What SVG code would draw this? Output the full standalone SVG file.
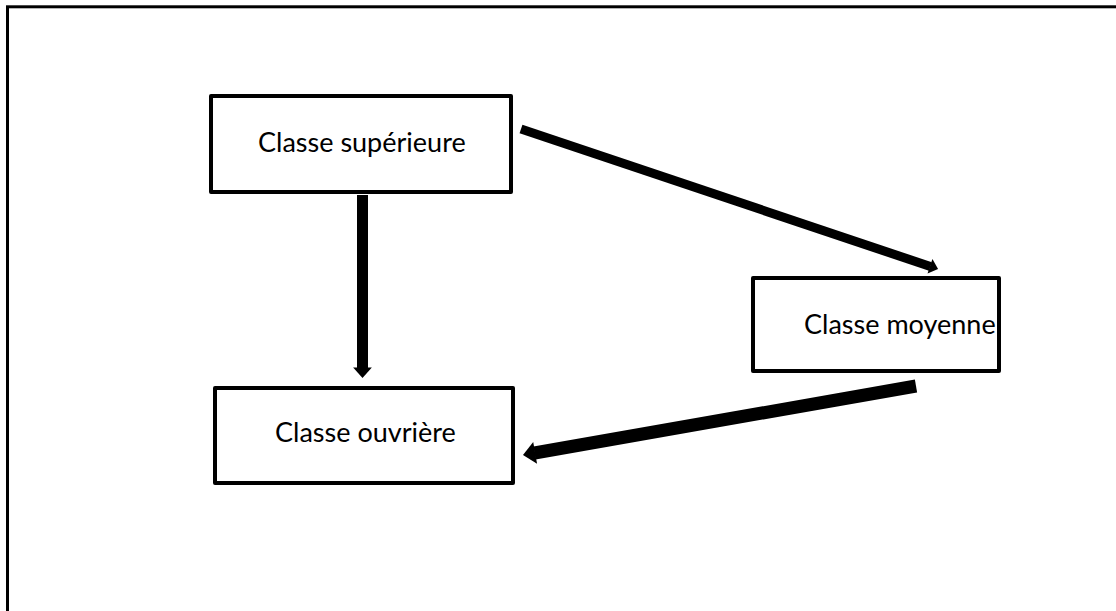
<svg xmlns="http://www.w3.org/2000/svg" width="1116" height="611" viewBox="0 0 1116 611">
  <style>
    .frame { fill: none; stroke: #000; stroke-width: 3; }
    .box { fill: #fff; stroke: #000; stroke-width: 4; stroke-linejoin: round; }
    .label { font-family: Lato, "Open Sans", "Liberation Sans", sans-serif; font-size: 27px; fill: #000; }
    .conn { stroke: #000; stroke-linecap: butt; fill: none; }
  </style>
  <defs>
    <marker id="head" viewBox="0 0 10 20" refX="0.5" refY="10" markerWidth="1" markerHeight="2" markerUnits="strokeWidth" orient="auto" overflow="visible">
      <path d="M0,1.5 L9.5,10 L0,18.5 Z" fill="#000"/>
    </marker>
  </defs>
  <rect width="1116" height="611" fill="#fff"/>
  <rect class="frame" x="7.5" y="6.8" width="1200" height="700"/>

  <g id="connectors">
    <line class="conn" x1="521" y1="129" x2="930.4" y2="266.5" stroke-width="9" marker-end="url(#head)"/>
    <line class="conn" x1="362.5" y1="195" x2="362.5" y2="368" stroke-width="11" marker-end="url(#head)"/>
    <line class="conn" x1="916" y1="386" x2="534.5" y2="453" stroke-width="13" marker-end="url(#head)"/>
  </g>

  <g id="node-superieure">
    <rect class="box" x="211" y="96" width="300" height="96"/>
    <text class="label" x="258" y="152">Classe supérieure</text>
  </g>
  <g id="node-moyenne">
    <rect class="box" x="753" y="278" width="246" height="93"/>
    <text class="label" x="804" y="334">Classe moyenne</text>
  </g>
  <g id="node-ouvriere">
    <rect class="box" x="215" y="388" width="298" height="95"/>
    <text class="label" x="275" y="442">Classe ouvrière</text>
  </g>
</svg>
